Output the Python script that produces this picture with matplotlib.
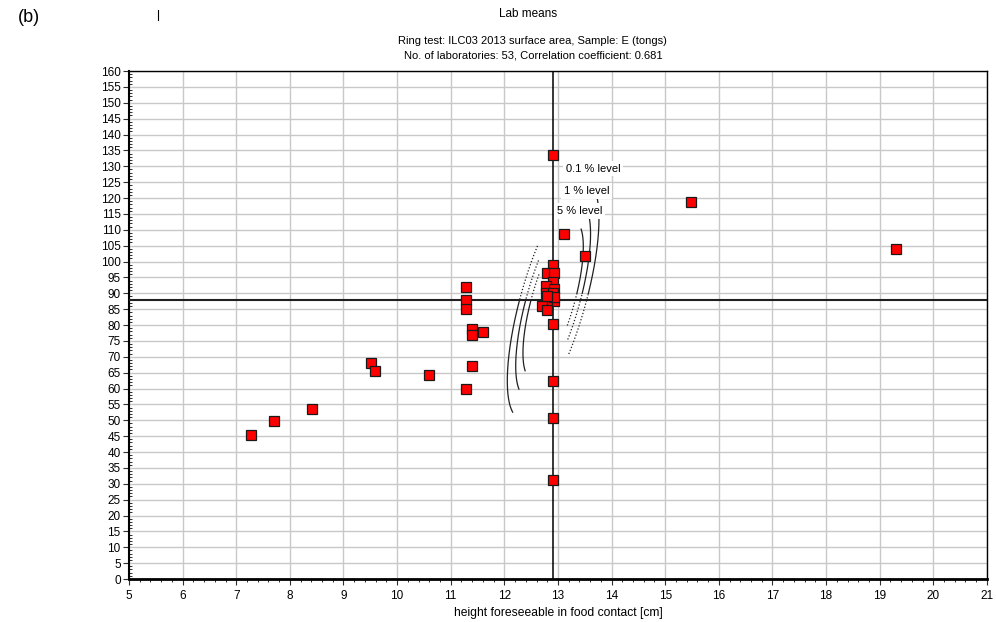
import numpy as np
import matplotlib
matplotlib.use("Agg")
import matplotlib.pyplot as plt
from matplotlib.lines import Line2D
from matplotlib.ticker import MultipleLocator

plt.rcParams['font.family'] = ['Liberation Sans', 'DejaVu Sans']

# Lab means: height [cm] and surface area
lab_height = [7.27, 7.70, 8.41, 9.51, 9.59, 10.59, 11.29, 11.40, 11.61, 11.40,
              11.40, 11.29, 11.29, 11.29, 12.90, 13.11, 13.50, 12.90, 12.79, 12.92,
              12.90, 12.78, 12.92, 12.78, 12.90, 12.92, 12.80, 12.70, 12.80, 12.90,
              12.90, 12.90, 12.90, 15.49, 19.30, 12.92, 12.80]
lab_surface = [45.4, 49.8, 53.4, 67.9, 65.6, 64.2, 59.8, 67.2, 77.7, 78.7,
               76.9, 91.9, 87.9, 84.9, 133.6, 108.8, 101.6, 99.0, 96.3, 96.5,
               93.4, 92.3, 91.2, 90.0, 90.0, 87.7, 87.4, 85.9, 84.7, 80.4,
               62.5, 50.8, 31.3, 118.7, 103.9, 88.9, 89.0]

# Statistics behind the confidence ellipses
mean_height = 12.91
mean_surface = 87.9
sd_height = 0.230
sd_surface = 10.06
correlation = 0.681

level_labels = ["5 % level", "1 % level", "0.1 % level"]
level_alpha = [0.05, 0.01, 0.001]

fig = plt.figure(figsize=(9.96, 6.22), dpi=100)
ax = fig.add_axes([0.1295, 0.0691, 0.8614, 0.8167])
ax.set_xlim(5, 21)
ax.set_ylim(0, 160)
ax.xaxis.set_major_locator(MultipleLocator(1))
ax.xaxis.set_minor_locator(MultipleLocator(0.2))
ax.yaxis.set_major_locator(MultipleLocator(5))
ax.yaxis.set_minor_locator(MultipleLocator(1))
ax.grid(True, which='major', color='#c8c8c8', lw=1.0)
ax.set_axisbelow(True)

ax.tick_params(axis='both', which='major', length=4, width=0.8, labelsize=8.5,
               color='#303030', pad=2)
ax.tick_params(axis='x', which='minor', length=2.5, width=0.7, color='#303030')
ax.tick_params(axis='y', which='minor', length=2, width=0.7, direction='in',
               color='#303030')
ax.tick_params(axis='x', which='major', pad=4)
for side in ('top', 'right'):
    ax.spines[side].set_linewidth(1.0)
ax.spines['bottom'].set_linewidth(2.0)
ax.spines['left'].set_linewidth(1.5)

ax.set_xlabel("height foreseeable in food contact [cm]", fontsize=8.7)
ax.xaxis.set_label_coords(0.5, -0.055)

# Mean lines
ax.axvline(mean_height, color='black', lw=1.1, zorder=3)
ax.axhline(mean_surface, color='#202020', lw=1.5, zorder=3)

# Confidence ellipse arcs (chi-square, 2 degrees of freedom)
q = np.sqrt(1 - correlation ** 2)
arc_ranges = {0.05: (118, 202), 0.01: (113, 204), 0.001: (110, 208)}


def ellipse_points(alpha, t0, t1):
    k = np.sqrt(-2 * np.log(alpha))
    t = np.radians(np.linspace(t0, t1, 300))
    x = mean_height + k * sd_height * np.cos(t)
    y = mean_surface + k * sd_surface * (correlation * np.cos(t) + q * np.sin(t))
    return x, y


for alpha in level_alpha:
    t0, t1 = arc_ranges[alpha]
    for shift in (0, 180):
        x, y = ellipse_points(alpha, t0 + shift, t1 + shift)
        if shift == 0:
            dotted = y >= mean_surface
        else:
            dotted = y <= mean_surface + 2
        solid = ~dotted
        ax.plot(np.where(solid, x, np.nan), np.where(solid, y, np.nan),
                color='#202020', lw=0.9, zorder=2)
        ax.plot(np.where(dotted, x, np.nan), np.where(dotted, y, np.nan),
                color='#202020', lw=0.9, ls=(0, (1, 1.6)), zorder=2)

label_pos = {"0.1 % level": (13.66, 129.3), "1 % level": (13.53, 122.2),
             "5 % level": (13.40, 116.0)}
for lab in level_labels:
    lx, ly = label_pos[lab]
    ax.text(lx, ly, lab, ha='center', va='center', fontsize=8, zorder=5,
            bbox=dict(fc='white', ec='none', pad=2.0))

# Lab means
ax.plot(lab_height, lab_surface, ls='none', marker='s', ms=7,
        mfc='#ff0000', mec='#1a1a1a', mew=0.9, zorder=4)

# Titles
fig.text(0.530, 0.977, "Lab means", ha='center', va='center', fontsize=8.5)
fig.text(0.535, 0.934, "Ring test: ILC03 2013 surface area, Sample: E (tongs)",
         ha='center', va='center', fontsize=8)
fig.text(0.535, 0.910, "No. of laboratories: 53, Correlation coefficient: 0.681",
         ha='center', va='center', fontsize=8)
fig.text(18 / 996, 1 - 17 / 622, "(b)", ha='left', va='center', fontsize=13)
fig.add_artist(Line2D([158 / 996, 158 / 996], [1 - 10 / 622, 1 - 20 / 622],
                      color='black', lw=0.8))

fig.savefig("out.png", dpi=100)
